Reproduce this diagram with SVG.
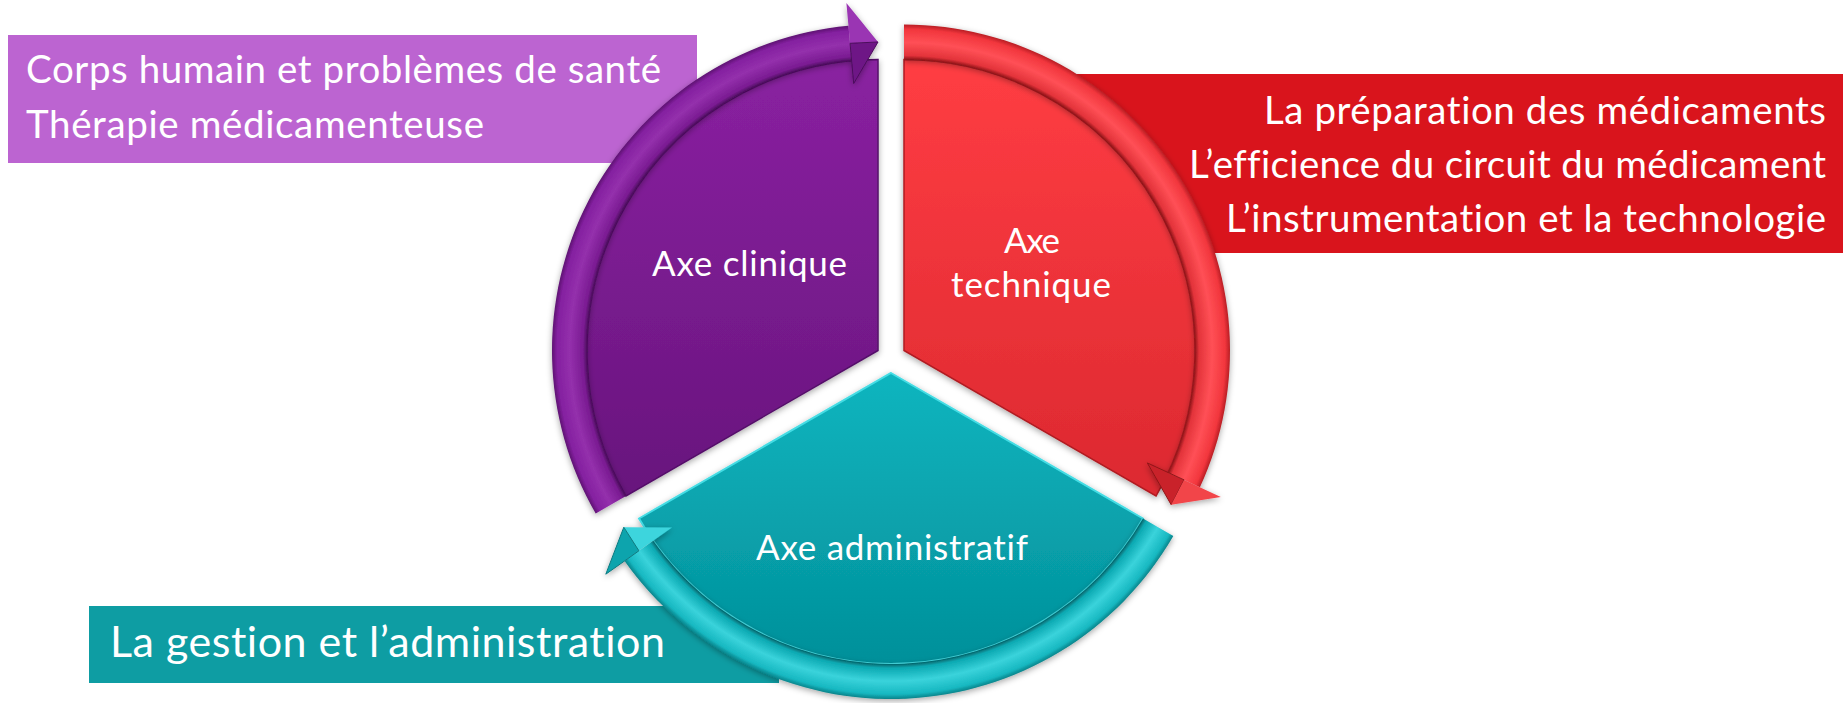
<svg xmlns="http://www.w3.org/2000/svg" width="1843" height="703" viewBox="0 0 1843 703">
  <defs>
    <style>
      .note { font-family: Lato, "Liberation Sans", sans-serif; fill: #ffffff; font-variant-ligatures: none; font-feature-settings: "liga" 0, "clig" 0; }
      .label { font-family: Lato, "Liberation Sans", sans-serif; font-size: 35px; fill: #ffffff; text-anchor: middle; font-variant-ligatures: none; font-feature-settings: "liga" 0, "clig" 0; }
      .sector { filter: url(#soft-shadow); }
    </style>
    <filter id="soft-shadow" x="-15%" y="-15%" width="130%" height="130%">
      <feDropShadow dx="0" dy="2" stdDeviation="3" flood-color="#000000" flood-opacity="0.35"/>
    </filter>
    <!-- sector bodies: light at the top, darker towards the bottom -->
    <linearGradient id="body-purple" x1="0" y1="0" x2="0" y2="1">
      <stop offset="0" stop-color="#8A21A1"/>
      <stop offset="1" stop-color="#68157D"/>
    </linearGradient>
    <linearGradient id="body-red" x1="0" y1="0" x2="0" y2="1">
      <stop offset="0" stop-color="#FF3D43"/>
      <stop offset="1" stop-color="#DC2930"/>
    </linearGradient>
    <linearGradient id="body-teal" x1="0" y1="0" x2="0" y2="1">
      <stop offset="0" stop-color="#0DB5BF"/>
      <stop offset="1" stop-color="#03909A"/>
    </linearGradient>
    <!-- curved arrow bands: tube shading across the ring -->
    <radialGradient id="band-purple" gradientUnits="userSpaceOnUse" cx="878" cy="350.5" r="326">
      <stop offset="0.8926" stop-color="#4B0D5C"/>
      <stop offset="0.905" stop-color="#7A1B92"/>
      <stop offset="0.945" stop-color="#9430AC"/>
      <stop offset="0.985" stop-color="#8420A0"/>
      <stop offset="1" stop-color="#5E1272"/>
    </radialGradient>
    <radialGradient id="band-red" gradientUnits="userSpaceOnUse" cx="904" cy="350.5" r="326">
      <stop offset="0.8926" stop-color="#8F1418"/>
      <stop offset="0.905" stop-color="#E3333A"/>
      <stop offset="0.945" stop-color="#FF5056"/>
      <stop offset="0.985" stop-color="#F2363D"/>
      <stop offset="1" stop-color="#B81E24"/>
    </radialGradient>
    <radialGradient id="band-teal" gradientUnits="userSpaceOnUse" cx="891" cy="373" r="326">
      <stop offset="0.8926" stop-color="#05646A"/>
      <stop offset="0.905" stop-color="#0BA9B2"/>
      <stop offset="0.945" stop-color="#3AD3DB"/>
      <stop offset="0.985" stop-color="#17B8C1"/>
      <stop offset="1" stop-color="#07838A"/>
    </radialGradient>
  </defs>

  <rect x="0" y="0" width="1843" height="703" fill="#ffffff"/>

  <!-- text panels (drawn first, partly tucked behind the wheel) -->
  <g id="note-clinique">
    <rect x="8" y="35" width="689" height="128" fill="#BC64D1"/>
    <text class="note" x="26" y="83" font-size="38.5" textLength="635">Corps humain et problèmes de santé</text>
    <text class="note" x="26" y="138" font-size="38.5" textLength="458">Thérapie médicamenteuse</text>
  </g>
  <g id="note-technique">
    <rect x="960" y="74" width="883" height="179" fill="#D9141C"/>
    <text class="note" x="1826" y="124" font-size="38.5" text-anchor="end" textLength="562">La préparation des médicaments</text>
    <text class="note" x="1826" y="178" font-size="38.5" text-anchor="end" textLength="637">L’efficience du circuit du médicament</text>
    <text class="note" x="1826" y="232" font-size="38.5" text-anchor="end" textLength="600">L’instrumentation et la technologie</text>
  </g>
  <g id="note-administratif">
    <rect x="89" y="606" width="690" height="77" fill="#0E9DA3"/>
    <text class="note" x="110" y="657" font-size="43" textLength="555">La gestion et l’administration</text>
  </g>

  <!-- wheel sectors -->
  <g id="axe-clinique" class="sector">
    <path d="M878 350.5 L626 496 A291 291 0 0 1 878 59.5 Z" fill="url(#body-purple)" stroke="#55106A" stroke-width="1.5"/>
  </g>
  <g id="axe-technique" class="sector">
    <path d="M904 350.5 L904 59.5 A291 291 0 0 1 1156 496 Z" fill="url(#body-red)" stroke="#B01C22" stroke-width="1.5"/>
  </g>
  <g id="axe-administratif" class="sector">
    <path d="M891 373 L1143 518.5 A291 291 0 0 1 639 518.5 Z" fill="url(#body-teal)" stroke="#45DCE4" stroke-width="2"/>
  </g>

  <!-- cycle arrows running along the rim -->
  <g id="connectors" class="sector">
    <path d="M595.7 513.5 A326 326 0 0 1 848.5 25.8 L851.6 60.7 A291 291 0 0 0 626 496 Z" fill="url(#band-purple)"/>
    <polygon points="878,42 846.4,2.9 850.05,43.3" fill="#9A34B3"/>
    <polygon points="878,42 850.05,43.3 853.7,83.6" fill="#6E1686" stroke="#4B0D5C" stroke-width="1"/>

    <path d="M904 24.5 A326 326 0 0 1 1199.9 487.3 L1168.2 472.6 A291 291 0 0 0 904 59.5 Z" fill="url(#band-red)"/>
    <polygon points="1171.2,504.75 1147.3,462.9 1184.1,479.9" fill="#C9232A" stroke="#8F1418" stroke-width="1"/>
    <polygon points="1171.2,504.75 1184.1,479.9 1220.8,496.9" fill="#F2444A"/>

    <path d="M1173.3 536 A326 326 0 0 1 624.6 560.9 L653.2 540.7 A291 291 0 0 0 1143 518.5 Z" fill="url(#band-teal)"/>
    <polygon points="623.8,527.25 672,527.5 638.9,550.8" fill="#3CD5DD"/>
    <polygon points="623.8,527.25 638.9,550.8 605.8,574.2" fill="#0FA4AD" stroke="#077A80" stroke-width="1"/>
  </g>

  <!-- sector captions -->
  <g id="captions">
    <text class="label" x="749.5" y="276" textLength="195">Axe clinique</text>
    <text class="label" x="1032" y="253" textLength="56">Axe</text>
    <text class="label" x="1031" y="297" textLength="160">technique</text>
    <text class="label" x="892" y="560" textLength="272">Axe administratif</text>
  </g>
</svg>
